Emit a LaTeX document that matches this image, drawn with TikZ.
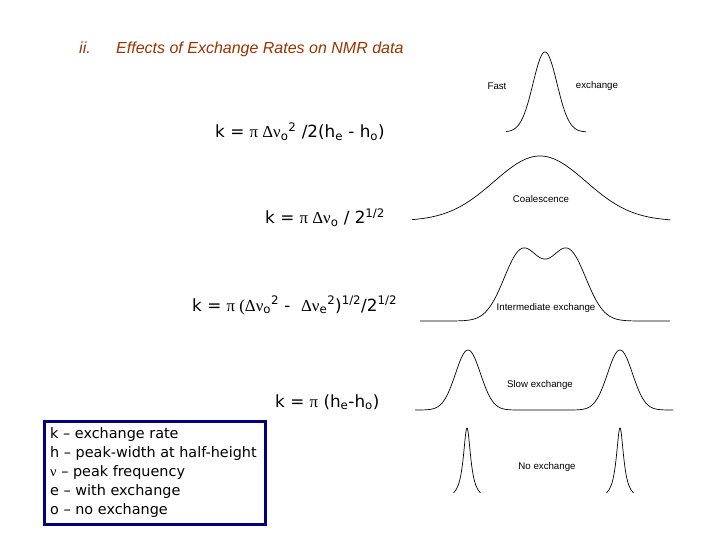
\documentclass[tikz,border=0pt]{standalone}
\usepackage{fontspec}
\setmainfont{DejaVu Sans}
\newfontfamily\arialf{Liberation Sans}
\newfontfamily\symf{Liberation Serif}
\definecolor{titlebrown}{RGB}{153,51,0}
\definecolor{navyblue}{RGB}{0,0,128}
\newcommand{\sy}[1]{{\symf #1}}
\newcommand{\sbs}[1]{\textsubscript{#1}}
\newcommand{\sps}[1]{\textsuperscript{#1}}
\begin{document}
\begin{tikzpicture}[x=1pt,y=-1pt,
  curve/.style={line width=0.7pt},
  lbl/.style={font=\arialf\fontsize{9.7}{11}\selectfont, inner sep=0},
  formula/.style={font=\fontsize{16.8}{20}\selectfont, inner sep=0, anchor=base west},
  titletext/.style={font=\arialf\itshape\fontsize{16}{19}\selectfont, text=titlebrown, inner sep=0, anchor=base west},
  legendline/.style={font=\fontsize{14.4}{17}\selectfont, inner sep=0, anchor=base west}]
\useasboundingbox (0,0) rectangle (720,540);

% title
\node[titletext] (num) at (79,54) {ii.};
\node[titletext] (title) at (116,54) {Effects of Exchange Rates on NMR data};

% formulas
\node[formula] (f1) at (215,138) {k = \sy{π Δν}\sbs{o}\sps{2} /2(h\sbs{e} - h\sbs{o})};
\node[formula] (f2) at (265,224) {k = \sy{π Δν}\sbs{o} / 2\sps{1/2}};
\node[formula] (f3) at (192,311) {k = \sy{π (Δν}\sbs{o}\sps{2} -\ \ \sy{Δν}\sbs{e}\sps{2})\sps{1/2}/2\sps{1/2}};
\node[formula] (f4) at (275,407) {k = \sy{π} (h\sbs{e}-h\sbs{o})};

% legend
\node[draw=navyblue, line width=2.6pt, anchor=north west, minimum width=221, minimum height=103, inner sep=0] (legend) at (43,420) {};
\node[legendline] (l1) at (50,438) {k -- exchange rate};
\node[legendline] (l2) at (50,457) {h -- peak-width at half-height};
\node[legendline] (l3) at (50,476) {\sy{ν} -- peak frequency};
\node[legendline] (l4) at (50,495) {e -- with exchange};
\node[legendline] (l5) at (50,514) {o -- no exchange};

% fast exchange
\draw[curve] plot[domain=506:586, samples=120, smooth] (\x, {132 - 80*exp(-0.5*((\x-545)/12)^2)});
\node[lbl] (fast) at (497,86) {Fast};
\node[lbl] (fastex) at (597,86) {exchange};

% coalescence
\draw[curve] plot[domain=412:670, samples=150, smooth] (\x, {221 - 65*exp(-0.5*((\x-540)/46)^2)});
\node[lbl] (coal) at (541,199) {Coalescence};

% intermediate
\draw[curve] plot[domain=420:670, samples=200, smooth] (\x, {321 - 70*exp(-0.5*((\x-522)/18)^2) - 70*exp(-0.5*((\x-568)/18)^2)});
\node[lbl] (inter) at (546,308) {Intermediate exchange};

% slow
\draw[curve] plot[domain=415:673, samples=250, smooth] (\x, {410 - 60*exp(-0.5*((\x-468)/12.5)^2) - 60*exp(-0.5*((\x-620)/12.5)^2)});
\node[lbl] (slow) at (540,385) {Slow exchange};

% no exchange
\draw[curve] plot[domain=453.5:480.5, samples=100, smooth] (\x, {500 - 72/(1+((\x-467)/4.5)^2)});
\draw[curve] plot[domain=606.5:633.5, samples=100, smooth] (\x, {500 - 72/(1+((\x-620)/4.5)^2)});
\node[lbl] (noex) at (547,467) {No exchange};
\end{tikzpicture}
\end{document}
